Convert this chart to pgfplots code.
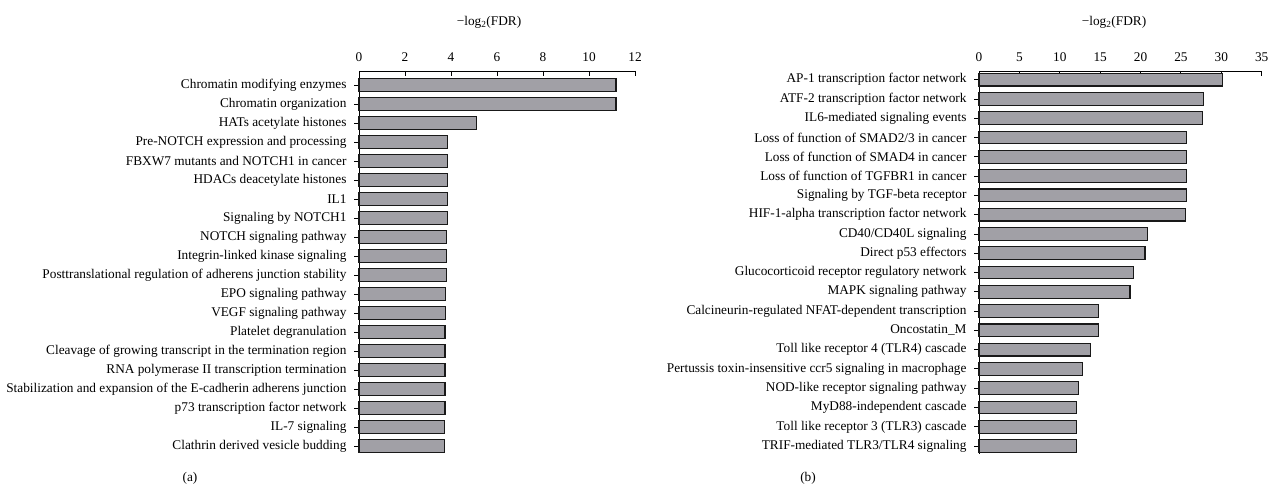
\documentclass[border=0pt]{standalone}
\usepackage{fontspec}
\setmainfont{Liberation Serif}
\usepackage{pgfplots}
\pgfplotsset{compat=1.18}
\definecolor{barfill}{RGB}{161,160,166}
\definecolor{bardraw}{RGB}{25,25,25}
\newcommand{\lf}{\fontsize{13.3}{16}\selectfont}
\pgfplotsset{
  myax/.style={
    scale only axis,
    xbar,
    axis x line*=top, axis y line*=left,
    xtick align=inside, ytick align=outside,
    major tick length=5pt,
    ytick={0,...,19},
    every tick label/.append style={font=\lf},
    /pgf/number format/assume math mode=true,
    xticklabel style={yshift=6pt},
    yticklabel style={xshift=-4pt},
    axis line style={line width=0.9pt, black},
    every tick/.style={line width=0.9pt, black},
    xmin=0,
    clip=false,
  },
  mybar/.style={fill=barfill, draw=bardraw, line width=1.2pt, bar width=12.7pt},
}
\begin{document}
\begin{tikzpicture}
\path[use as bounding box] (0pt,0pt) rectangle (1274pt,494pt);
\begin{axis}[myax,
  at={(359pt,423pt)}, anchor=north west,
  width=276pt, height=382pt,
  xmax=12, xtick={0,2,...,12},
  ymin=-0.37, ymax=19.75,
  yticklabels={Clathrin derived vesicle budding,
    IL-7 signaling,
    p73 transcription factor network,
    Stabilization and expansion of the E-cadherin adherens junction,
    RNA polymerase II transcription termination,
    Cleavage of growing transcript in the termination region,
    Platelet degranulation,
    VEGF signaling pathway,
    EPO signaling pathway,
    Posttranslational regulation of adherens junction stability,
    Integrin-linked kinase signaling,
    NOTCH signaling pathway,
    Signaling by NOTCH1,
    IL1,
    HDACs deacetylate histones,
    FBXW7 mutants and NOTCH1 in cancer,
    Pre-NOTCH expression and processing,
    HATs acetylate histones,
    Chromatin organization,
    Chromatin modifying enzymes},
]
\addplot[mybar] coordinates {
  (3.71,0) (3.71,1) (3.74,2) (3.74,3) (3.74,4) (3.74,5) (3.74,6) (3.75,7)
  (3.75,8) (3.81,9) (3.81,10) (3.81,11) (3.84,12) (3.84,13) (3.84,14)
  (3.84,15) (3.86,16) (5.12,17) (11.17,18) (11.17,19)};
\end{axis}
\begin{axis}[myax,
  at={(979pt,423pt)}, anchor=north west,
  width=282.7pt, height=383pt,
  xmax=35, xtick={0,5,...,35},
  ymin=-0.41, ymax=19.45,
  yticklabels={TRIF-mediated TLR3/TLR4 signaling,
    Toll like receptor 3 (TLR3) cascade,
    MyD88-independent cascade,
    NOD-like receptor signaling pathway,
    Pertussis toxin-insensitive ccr5 signaling in macrophage,
    Toll like receptor 4 (TLR4) cascade,
    Oncostatin\_M,
    Calcineurin-regulated NFAT-dependent transcription,
    MAPK signaling pathway,
    Glucocorticoid receptor regulatory network,
    Direct p53 effectors,
    CD40/CD40L signaling,
    HIF-1-alpha transcription factor network,
    Signaling by TGF-beta receptor,
    Loss of function of TGFBR1 in cancer,
    Loss of function of SMAD4 in cancer,
    Loss of function of SMAD2/3 in cancer,
    IL6-mediated signaling events,
    ATF-2 transcription factor network,
    AP-1 transcription factor network},
]
\addplot[mybar] coordinates {
  (12.09,0) (12.09,1) (12.09,2) (12.34,3) (12.8,4) (13.83,5) (14.77,6)
  (14.77,7) (18.7,8) (19.1,9) (20.55,10) (20.84,11) (25.55,12) (25.7,13)
  (25.7,14) (25.7,15) (25.7,16) (27.7,17) (27.8,18) (30.13,19)};
\end{axis}
\node[font=\lf] at (489pt,472pt) {−log\textsubscript{2}(FDR)};
\node[font=\lf] at (1114pt,472pt) {−log\textsubscript{2}(FDR)};
\node[font=\lf] at (190pt,16pt) {(a)};
\node[font=\lf] at (808pt,16pt) {(b)};
\end{tikzpicture}
\end{document}
